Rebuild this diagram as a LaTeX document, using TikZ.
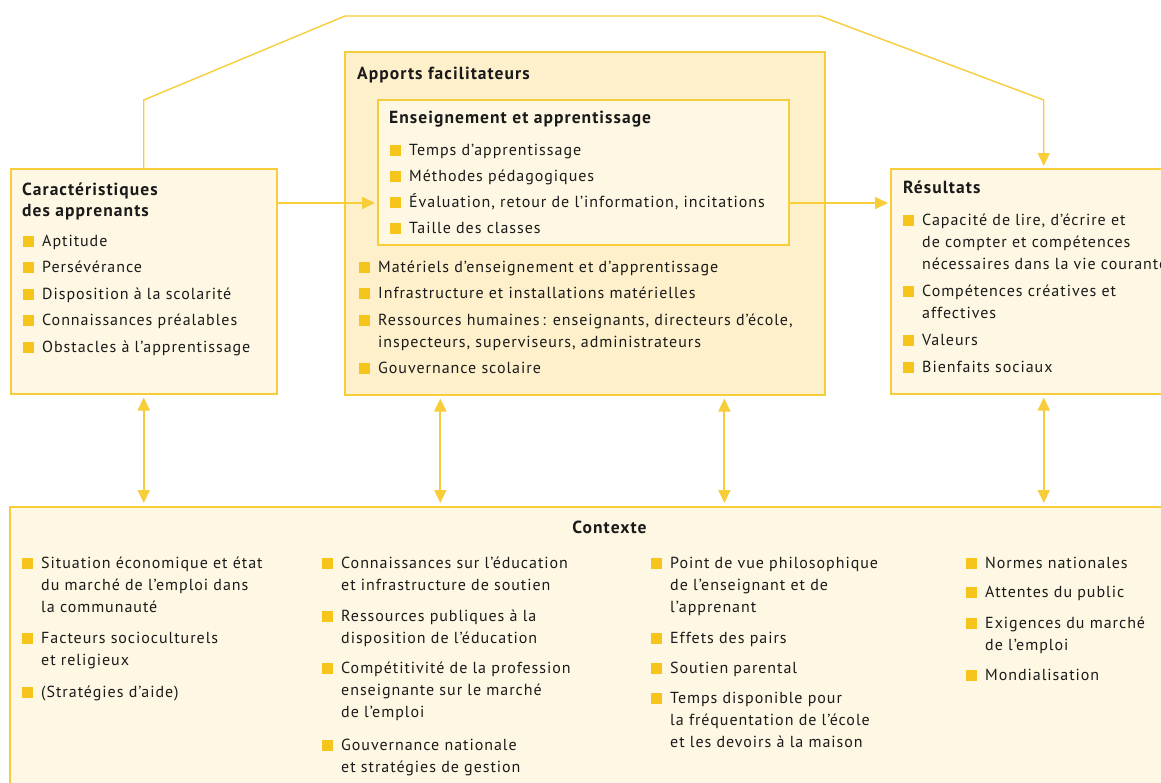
\documentclass[tikz,border=0pt]{standalone}
\usepackage{fontspec}
\setmainfont{PT Sans}[LetterSpace=6]
\usetikzlibrary{arrows.meta,calc}
\definecolor{ln}{HTML}{F8CD3A}
\definecolor{bul}{HTML}{F6C51C}
\definecolor{fa}{HTML}{FEF7E3}
\definecolor{fb}{HTML}{FEF0CB}
\definecolor{tx}{HTML}{1A1A1A}
\tikzset{
 box/.style={draw=ln, line width=1.5pt, anchor=north west, inner sep=0pt},
 txt/.style={anchor=base west, inner sep=0pt, font=\fontsize{16}{22.3}\selectfont, text=tx},
 ttl/.style={anchor=base west, inner sep=0pt, font=\fontsize{17.5}{21}\selectfont\bfseries, text=tx},
 sq/.style={fill=bul, minimum size=11pt, inner sep=0pt, anchor=south west},
 arr/.style={draw=ln, line width=1.8pt, -{Triangle[width=12pt,length=13pt]}, shorten >=2pt},
 darr/.style={draw=ln, line width=1.8pt, {Triangle[width=12pt,length=13pt]}-{Triangle[width=12pt,length=13pt]}, shorten >=3pt, shorten <=3pt},
}
\newcommand\lines[1]{\begin{tabular}[t]{@{}l@{}}#1\end{tabular}}
\newcommand\bitem[4]{\node[sq] (#1s) at (#2-19.5,#3+1) {};\node[txt] (#1) at (#2,#3) {\lines{#4}};}
\begin{document}
\begin{tikzpicture}[x=1pt,y=-1pt]
\useasboundingbox[fill=white] (0,0) rectangle (1161,782);
\clip (0,0) rectangle (1161,782);
% boxes
\node[box, fill=fa, minimum width=266pt, minimum height=225pt] (carac) at (10,168) {};
\node[box, fill=fb, minimum width=480pt, minimum height=343pt] (mid) at (344,51) {};
\node[box, fill=fa, minimum width=411pt, minimum height=145pt] (inner) at (377,99) {};
\node[box, fill=fa, minimum width=306pt, minimum height=225pt] (res) at (890,168) {};
\node[box, fill=fa, minimum width=1201pt, minimum height=300pt] (ctx) at (9,506) {};
% left box
\node[ttl] (caracT) at (22,195) {\lines{Caractéristiques\\des apprenants}};
\bitem{c1}{42}{246}{Aptitude}
\bitem{c2}{42}{272.5}{Persévérance}
\bitem{c3}{42}{299}{Disposition à la scolarité}
\bitem{c4}{42}{325.5}{Connaissances préalables}
\bitem{c5}{42}{352}{Obstacles à l’apprentissage}
% middle
\node[ttl] (midT) at (357,79) {Apports facilitateurs};
\node[ttl] (innerT) at (389,123) {Enseignement et apprentissage};
\bitem{e1}{409}{155}{Temps d’apprentissage}
\bitem{e2}{409}{181}{Méthodes pédagogiques}
\bitem{e3}{409}{207}{Évaluation, retour de l’information, incitations}
\bitem{e4}{409}{233}{Taille des classes}
\bitem{m1}{378}{272}{Matériels d’enseignement et d’apprentissage}
\bitem{m2}{378}{298}{Infrastructure et installations matérielles}
\bitem{m3}{378}{325}{Ressources humaines\,: enseignants, directeurs d’école,\\inspecteurs, superviseurs, administrateurs}
\bitem{m4}{378}{373}{Gouvernance scolaire}
% results
\node[ttl] (resT) at (903,193) {Résultats};
\bitem{r1}{922}{225}{Capacité de lire, d’écrire et\\de compter et compétences\\nécessaires dans la vie courante}
\bitem{r2}{922}{296}{Compétences créatives et\\affectives}
\bitem{r3}{922}{345}{Valeurs}
\bitem{r4}{922}{372}{Bienfaits sociaux}
% context
\node[ttl, anchor=base] (ctxT) at (609.5,533) {Contexte};
\bitem{k1}{41}{568}{Situation économique et état\\du marché de l’emploi dans\\la communauté}
\bitem{k2}{41}{643}{Facteurs socioculturels\\et religieux}
\bitem{k3}{41}{697}{(Stratégies d’aide)}
\bitem{k4}{341}{568}{Connaissances sur l’éducation\\et infrastructure de soutien}
\bitem{k5}{341}{621}{Ressources publiques à la\\disposition de l’éducation}
\bitem{k6}{341}{673}{Compétitivité de la profession\\enseignante sur le marché\\de l’emploi}
\bitem{k7}{341}{750}{Gouvernance nationale\\et stratégies de gestion}
\bitem{k8}{670}{568}{Point de vue philosophique\\de l’enseignant et de\\l’apprenant}
\bitem{k9}{670}{643}{Effets des pairs}
\bitem{k10}{670}{673}{Soutien parental}
\bitem{k11}{670}{703}{Temps disponible pour\\la fréquentation de l’école\\et les devoirs à la maison}
\bitem{k12}{985}{568}{Normes nationales}
\bitem{k13}{985}{597}{Attentes du public}
\bitem{k14}{985}{628}{Exigences du marché\\de l’emploi}
\bitem{k15}{985}{680}{Mondialisation}
% connectors
\coordinate (hy) at (0,203);
\coordinate (t1) at (143,100);
\coordinate (t2) at (345,16);
\coordinate (t3) at (820,16);
\coordinate (t4) at (1043,100);
\draw[arr, line width=1.4pt] (carac.north) -- (carac.north |- t1) -- (t2) -- (t3) -- (res.north |- t4) -- (res.north);
\draw[arr] (carac.east |- hy) -- (inner.west |- hy);
\draw[arr] (inner.east |- hy) -- (res.west |- hy);
\draw[darr] (carac.south) -- (carac.south |- ctx.north);
\coordinate (b1) at ($(mid.south west)!0.2!(mid.south east)$);
\coordinate (b2) at ($(mid.south west)!0.79!(mid.south east)$);
\draw[darr] (b1) -- (b1 |- ctx.north);
\draw[darr] (b2) -- (b2 |- ctx.north);
\draw[darr] (res.south) -- (res.south |- ctx.north);
\end{tikzpicture}
\end{document}
